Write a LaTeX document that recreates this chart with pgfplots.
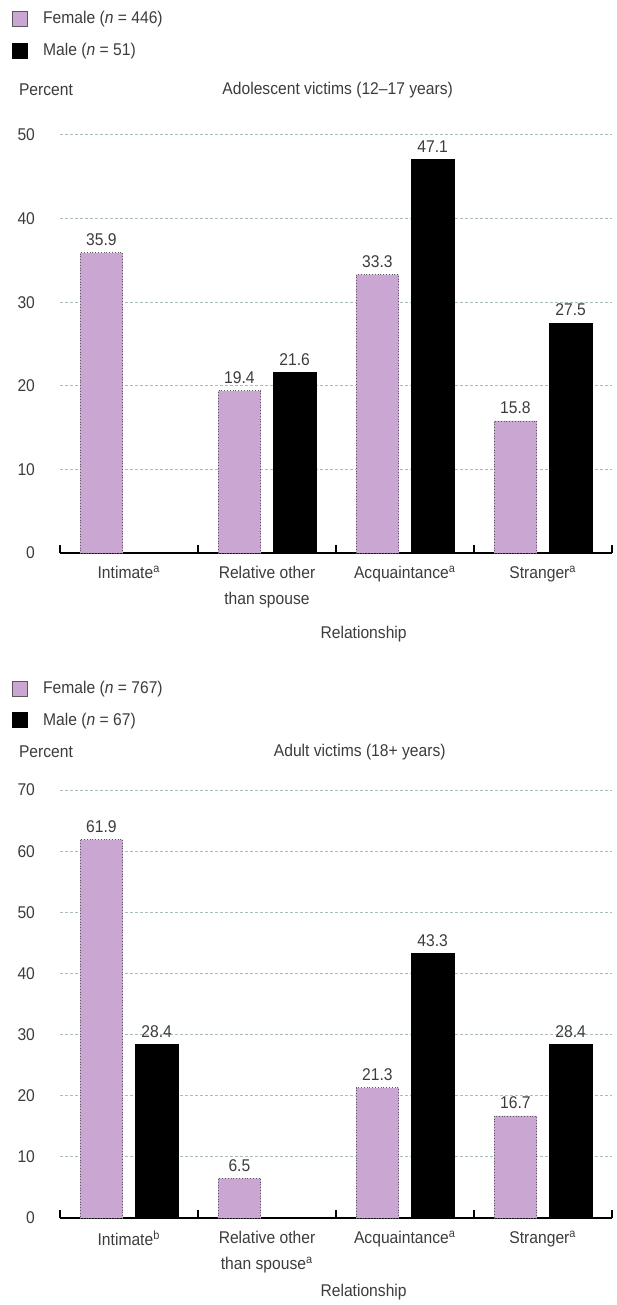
\documentclass[border=0pt]{standalone}
\usepackage{pgfplots}
\pgfplotsset{compat=1.18}
\usepackage{fontspec}
\setmainfont{Liberation Sans}[FakeStretch=0.92]
\definecolor{fem}{RGB}{202,166,210}
\definecolor{txt}{RGB}{60,60,60}
\definecolor{gridc}{RGB}{170,188,192}
\newcommand{\fs}{\fontsize{8.5}{13}\selectfont}
\pgfplotsset{
  mybars/.style={
    scale only axis, width=276pt, ybar,
    xmin=-0.5, xmax=3.5, ymin=0, clip=false,
    axis x line*=bottom, axis y line*=left,
    y axis line style={draw=none},
    x axis line style={line width=1pt, -},
    xtick={0,1,2,3}, major x tick style={draw=none},
    minor xtick={-0.5,0.5,1.5,2.5,3.5},
    minor x tick style={black, line width=0.8pt},
    minor tick length=4pt, xtick align=inside,
    major y tick style={draw=none},
    ymajorgrids, grid style={gridc, dash pattern=on 1.5pt off 1pt, line width=0.5pt},
    tick label style={font=\fs, text=txt},
    /pgf/number format/assume math mode=true,
    yticklabel style={anchor=east, xshift=-9pt},
    xticklabel style={align=center, anchor=north, yshift=-3pt},
    nodes near coords={\pgfmathprintnumber[fixed,fixed zerofill,precision=1]{\pgfplotspointmeta}},
    nodes near coords style={font=\fs, text=txt, anchor=south, yshift=0pt},
    xlabel={Relationship}, xlabel style={font=\fs, text=txt, at={(axis description cs:0.55,0)}, anchor=center},
    legend cell align=left,
    legend image code/.code={\draw[#1,solid] (0pt,-3.75pt) rectangle (7.5pt,3.75pt);},
    legend style={draw=none, fill=none, font=\fs, text=txt, anchor=north west, inner sep=0pt, row sep=4pt,
      /tikz/every odd column/.append style={column sep=5.5pt}},
  },
  fbar/.style={fill=fem, draw=black!65, densely dotted, bar width=0.31, bar shift=-0.2},
  mbar/.style={fill=black, draw=black, bar width=0.31, bar shift=0.2},
}
\begin{document}
\begin{tikzpicture}
\path[use as bounding box] (0,0) rectangle (308pt,-652.5pt);
% Top chart
\begin{axis}[mybars,
  at={(30pt,-276.5pt)}, anchor=south west, height=209pt,
  ymax=50, ytick={0,10,20,30,40,50},
  xticklabels={Intimate\textsuperscript{a}, Relative other\\than spouse, Acquaintance\textsuperscript{a}, Stranger\textsuperscript{a}},
  xlabel style={yshift=-40.5pt},
  legend style={at={(axis description cs:-0.087,1.306)}},
]
\addplot[fbar] coordinates {(0,35.9) (1,19.4) (2,33.3) (3,15.8)};
\addplot[mbar] coordinates {(1,21.6) (2,47.1) (3,27.5)};
\legend{Female (\textit{n} = 446), Male (\textit{n} = 51)}
\node[anchor=west, font=\fs, text=txt] at (axis description cs:-0.087,1.108) {Percent};
\node[anchor=center, font=\fs, text=txt] at (axis description cs:0.503,1.108) {Adolescent victims (12--17 years)};
\end{axis}
% Bottom chart
\begin{axis}[mybars,
  at={(30pt,-609pt)}, anchor=south west, height=214pt,
  ymax=70, ytick={0,10,20,30,40,50,60,70},
  xticklabels={Intimate\textsuperscript{b}, Relative other\\than spouse\textsuperscript{a}, Acquaintance\textsuperscript{a}, Stranger\textsuperscript{a}},
  xlabel style={yshift=-37pt},
  legend style={at={(axis description cs:-0.087,1.264)}},
]
\addplot[fbar] coordinates {(0,61.9) (1,6.5) (2,21.3) (3,16.7)};
\addplot[mbar] coordinates {(0,28.4) (2,43.3) (3,28.4)};
\legend{Female (\textit{n} = 767), Male (\textit{n} = 67)}
\node[anchor=west, font=\fs, text=txt] at (axis description cs:-0.087,1.089) {Percent};
\node[anchor=center, font=\fs, text=txt] at (axis description cs:0.543,1.089) {Adult victims (18+ years)};
\end{axis}
\end{tikzpicture}
\end{document}
